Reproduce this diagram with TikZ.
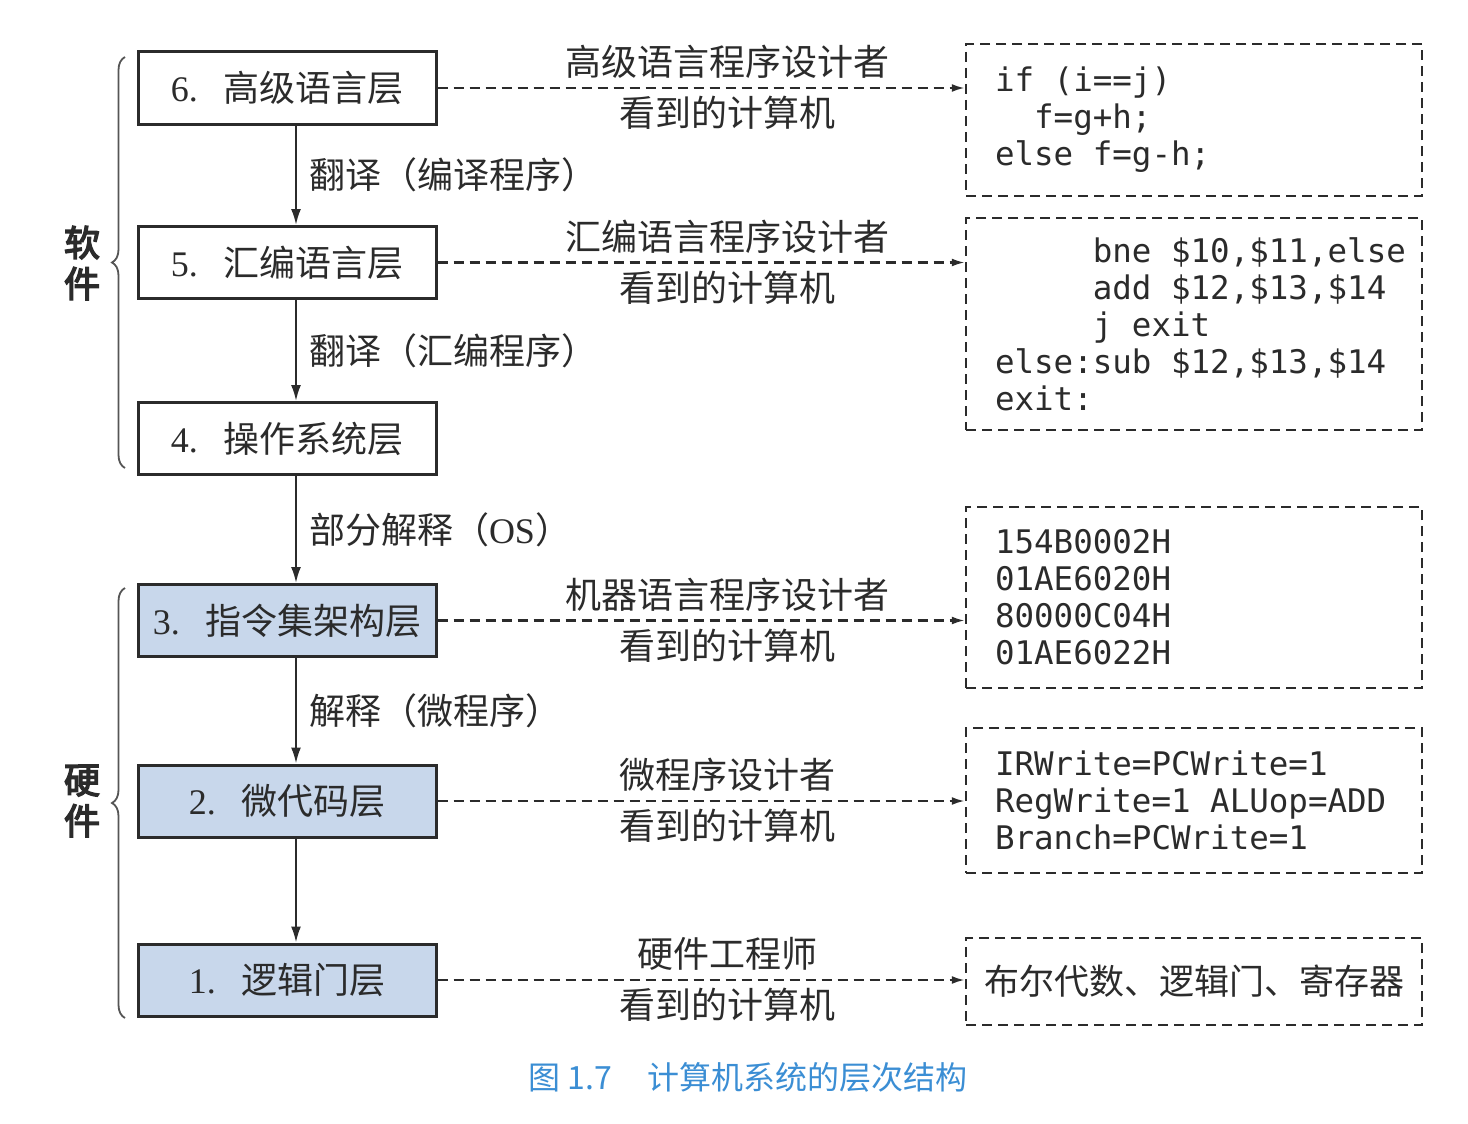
\documentclass[tikz,border=0pt]{standalone}
\usepackage{fontspec}
\setmainfont{Liberation Serif}
\newfontfamily\cjk{Noto Sans CJK SC}
\newfontfamily\cjkbold{Noto Sans CJK SC}[FakeBold=4]
\newfontfamily\code{DejaVu Sans Mono}
\usetikzlibrary{arrows.meta,decorations.pathreplacing}

\definecolor{layerblue}{HTML}{C8D7EB}
\definecolor{inkgray}{HTML}{2B2B2B}
\definecolor{bracegray}{HTML}{555555}
\definecolor{capblue}{HTML}{3B8ED4}

\newcommand\layer[2]{{\rmfamily #1.}\hspace{0.7em}#2}
\newcommand\blank{\hphantom{x}}

\begin{document}
\begin{tikzpicture}[
  x=1pt, y=-1pt,
  font=\cjk\fontsize{36}{42}\selectfont, text=inkgray,
  layerbox/.style={draw=inkgray, line width=3pt, minimum width=298pt, minimum height=72pt, fill=white, inner sep=0pt},
  hwbox/.style={layerbox, fill=layerblue},
  viewbox/.style={draw=inkgray, line width=2.5pt, dash pattern=on 10pt off 6pt, minimum width=456pt, inner xsep=29pt, inner ysep=0pt, text width=398pt, align=left, font=\code\fontsize{32.5}{37}\selectfont},
  viewtext/.style={draw=inkgray, line width=2.5pt, dash pattern=on 10pt off 6pt, minimum width=456pt, inner sep=0pt, align=center, font=\cjk\fontsize{35}{42}\selectfont},
  flow/.style={draw=inkgray, line width=2pt, -{Latex[length=16pt,width=10pt]}},
  view/.style={draw=inkgray, line width=2.2pt, dash pattern=on 10pt off 6pt, -{Latex[length=13pt,width=8pt]}},
  vlabel/.style={pos=.55, inner sep=0pt},
  flabel/.style={midway, right, inner sep=0pt, xshift=12pt},
  brace/.style={draw=bracegray, line width=1.8pt, decorate, decoration={brace, amplitude=13pt}},
  sidelabel/.style={font=\cjkbold\fontsize{36}{41}\selectfont, align=center, inner sep=0pt}
]
\useasboundingbox[fill=white] (0,0) rectangle (1468,1124);

\node[layerbox] (l6) at (287,88) {\layer{6}{高级语言层}};
\node[layerbox] (l5) at (287,262.5) {\layer{5}{汇编语言层}};
\node[layerbox] (l4) at (287,438.5) {\layer{4}{操作系统层}};
\node[hwbox] (l3) at (287,620.5) {\layer{3}{指令集架构层}};
\node[hwbox] (l2) at (287,801) {\layer{2}{微代码层}};
\node[hwbox] (l1) at (287,980) {\layer{1}{逻辑门层}};

\node[viewbox, minimum height=152pt] (v6) at (1194,120)
  {if\blank(i==j)\\\hphantom{if}f=g+h;\\else\blank f=g-h;};
\node[viewbox, minimum height=212pt] (v5) at (1194,324)
  {\hphantom{else:}bne\blank\$10,\$11,else\\\hphantom{else:}add\blank\$12,\$13,\$14\\\hphantom{else:}j\blank exit\\else:sub\blank\$12,\$13,\$14\\exit:};
\node[viewbox, minimum height=181pt] (v3) at (1194,597.5)
  {154B0002H\\01AE6020H\\80000C04H\\01AE6022H};
\node[viewbox, minimum height=145pt] (v2) at (1194,800.5)
  {IRWrite=PCWrite=1\\RegWrite=1\blank ALUop=ADD\\Branch=PCWrite=1};
\node[viewtext, minimum height=87pt] (v1) at (1194,981.5) {布尔代数、逻辑门、寄存器};

\draw[flow] ([xshift=9pt]l6.south) -- node[flabel] {翻译（编译程序）} ([xshift=9pt]l5.north);
\draw[flow] ([xshift=9pt]l5.south) -- node[flabel] {翻译（汇编程序）} ([xshift=9pt]l4.north);
\draw[flow] ([xshift=9pt]l4.south) -- node[flabel] {部分解释（{\rmfamily OS}）} ([xshift=9pt]l3.north);
\draw[flow] ([xshift=9pt]l3.south) -- node[flabel] {解释（微程序）} ([xshift=9pt]l2.north);
\draw[flow] ([xshift=9pt]l2.south) -- ([xshift=9pt]l1.north);

\draw[view] (l6.east) -- node[vlabel, above=8pt] {高级语言程序设计者}
  node[vlabel, below=7pt] {看到的计算机} (l6.east -| v6.west);
\draw[view] (l5.east) -- node[vlabel, above=8pt] {汇编语言程序设计者}
  node[vlabel, below=7pt] {看到的计算机} (l5.east -| v5.west);
\draw[view] (l3.east) -- node[vlabel, above=8pt] {机器语言程序设计者}
  node[vlabel, below=7pt] {看到的计算机} (l3.east -| v3.west);
\draw[view] (l2.east) -- node[vlabel, above=8pt] {微程序设计者}
  node[vlabel, below=7pt] {看到的计算机} (l2.east -| v2.west);
\draw[view] (l1.east) -- node[vlabel, above=8pt] {硬件工程师}
  node[vlabel, below=7pt] {看到的计算机} (l1.east -| v1.west);

\coordinate (swtop) at (125,57);
\coordinate (swbot) at (125,468);
\coordinate (hwtop) at (125,588);
\coordinate (hwbot) at (125,1018);
\draw[brace] (swbot) -- (swtop);
\draw[brace] (hwbot) -- (hwtop);
\node[sidelabel] (soft) at (82,263) {软\\件};
\node[sidelabel] (hard) at (82,801) {硬\\件};

\node[font=\cjk\fontsize{32}{38}\selectfont, text=capblue] (cap) at (748,1077)
  {图 1.7\hspace{1.1em}计算机系统的层次结构};
\end{tikzpicture}
\end{document}
